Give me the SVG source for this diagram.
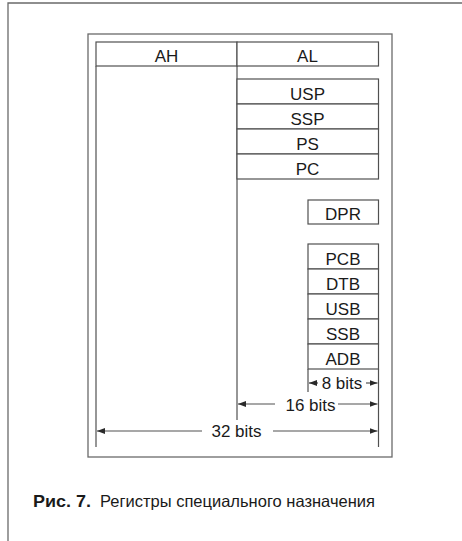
<svg xmlns="http://www.w3.org/2000/svg" width="462" height="541" viewBox="0 0 462 541">
<style>
.frame{fill:none;stroke:#6a6a6a;stroke-width:1.3}
.box{fill:#fff;stroke:#505050;stroke-width:1.2}
.ln{fill:none;stroke:#505050;stroke-width:1.2}
.lbl{font-family:"Liberation Sans",Arial,sans-serif;font-size:17px;fill:#1a1a1a;text-anchor:middle}
.cap{font-family:"Liberation Sans",Arial,sans-serif;font-size:16.5px;fill:#1a1a1a}
</style>
<defs>
<marker id="ah" markerWidth="9" markerHeight="7" refX="8" refY="3.5" orient="auto-start-reverse" markerUnits="userSpaceOnUse">
<path d="M0,0.5 L8,3.5 L0,6.5 Z" fill="#2a2a2a"/>
</marker>
</defs>
<rect width="462" height="541" fill="#fff"/>
<path class="frame" d="M8,541 V3 H462"/>
<rect class="frame" x="88" y="34" width="304" height="423"/>

<g id="connectors">
<path class="ln" d="M96,66 V447"/>
<path class="ln" d="M237,66 V420"/>
<path class="ln" d="M308,369 V392"/>
<path class="ln" d="M378.5,369 V447"/>
<path class="ln" d="M318,383 H309" marker-end="url(#ah)"/>
<path class="ln" d="M366,383 H377.5" marker-end="url(#ah)"/>
<path class="ln" d="M275,404 H238" marker-end="url(#ah)"/>
<path class="ln" d="M338,404 H377.5" marker-end="url(#ah)"/>
<path class="ln" d="M202,431 H97" marker-end="url(#ah)"/>
<path class="ln" d="M273,431 H377.5" marker-end="url(#ah)"/>
<text class="lbl" x="342" y="388.5">8 bits</text>
<text class="lbl" x="310.5" y="410.5">16 bits</text>
<text class="lbl" x="236.5" y="437">32 bits</text>
</g>

<g id="AH"><rect class="box" x="96" y="42" width="141" height="24"/><text class="lbl" x="166.5" y="62">AH</text></g>
<g id="AL"><rect class="box" x="237" y="42" width="141.5" height="24"/><text class="lbl" x="307.5" y="62">AL</text></g>

<g id="USP"><rect class="box" x="237" y="79" width="141.5" height="25"/><text class="lbl" x="307.5" y="99.5">USP</text></g>
<g id="SSP"><rect class="box" x="237" y="104" width="141.5" height="25"/><text class="lbl" x="307.5" y="124.5">SSP</text></g>
<g id="PS"><rect class="box" x="237" y="129" width="141.5" height="25"/><text class="lbl" x="307.5" y="149.5">PS</text></g>
<g id="PC"><rect class="box" x="237" y="154" width="141.5" height="25"/><text class="lbl" x="307.5" y="174.5">PC</text></g>

<g id="DPR"><rect class="box" x="308" y="200" width="70.5" height="24"/><text class="lbl" x="343" y="219.5">DPR</text></g>

<g id="PCB"><rect class="box" x="308" y="244" width="70.5" height="25"/><text class="lbl" x="343" y="264.5">PCB</text></g>
<g id="DTB"><rect class="box" x="308" y="269" width="70.5" height="25"/><text class="lbl" x="343" y="289.5">DTB</text></g>
<g id="USB"><rect class="box" x="308" y="294" width="70.5" height="25"/><text class="lbl" x="343" y="314.5">USB</text></g>
<g id="SSB"><rect class="box" x="308" y="319" width="70.5" height="25"/><text class="lbl" x="343" y="339.5">SSB</text></g>
<g id="ADB"><rect class="box" x="308" y="344" width="70.5" height="25"/><text class="lbl" x="343" y="364.5">ADB</text></g>

<text class="cap" x="33" y="507" font-weight="bold" font-size="18" textLength="58" lengthAdjust="spacingAndGlyphs">Рис. 7.</text>
<text class="cap" x="100" y="507" textLength="275">Регистры специального назначения</text>
</svg>
